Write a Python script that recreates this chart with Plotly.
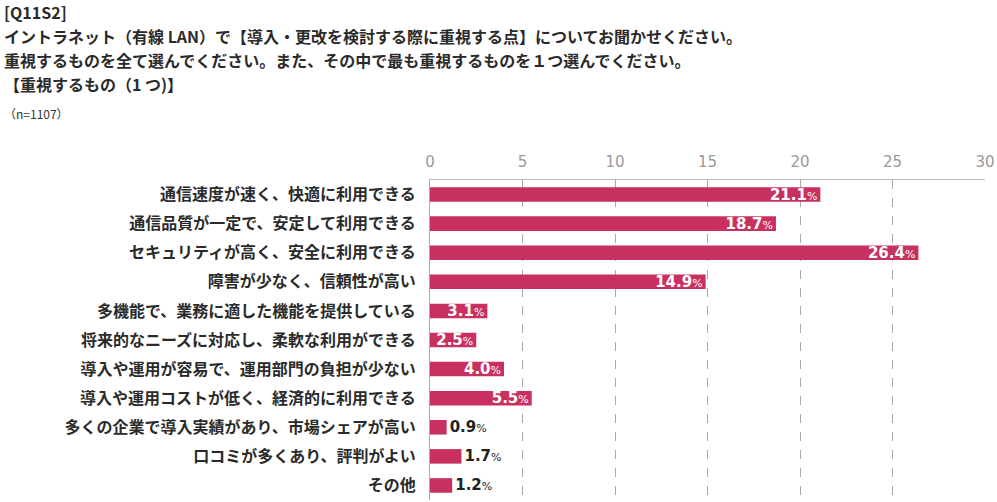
import plotly.graph_objects as go

categories = [
    "通信速度が速く、快適に利用できる",
    "通信品質が一定で、安定して利用できる",
    "セキュリティが高く、安全に利用できる",
    "障害が少なく、信頼性が高い",
    "多機能で、業務に適した機能を提供している",
    "将来的なニーズに対応し、柔軟な利用ができる",
    "導入や運用が容易で、運用部門の負担が少ない",
    "導入や運用コストが低く、経済的に利用できる",
    "多くの企業で導入実績があり、市場シェアが高い",
    "口コミが多くあり、評判がよい",
    "その他",
]
values = [21.1, 18.7, 26.4, 14.9, 3.1, 2.5, 4.0, 5.5, 0.9, 1.7, 1.2]
x_ticks = [0, 5, 10, 15, 20, 25, 30]

title_lines = [
    "[Q11S2]",
    "イントラネット（有線 LAN）で【導入・更改を検討する際に重視する点】についてお聞かせください。",
    "重視するものを全て選んでください。また、その中で最も重視するものを１つ選んでください。",
    "【重視するもの（1 つ)】",
]
n_text = "（n=1107）"

W, H = 997, 502
ML, MR, MT, MB = 430, 9, 180, 2
PW, PH = W - ML - MR, H - MT - MB

FONT = "Noto Sans CJK JP"
NUMFONT = "DejaVu Sans"
BAR = "#C8315F"

positions = ["inside" if v >= 2 else "outside" for v in values]
colors = ["white" if v >= 2 else "#222222" for v in values]
texts = [f"<b>{v:.1f}</b><span style='font-size:11px'>%</span>" for v in values]

fig = go.Figure(go.Bar(
    y=categories, x=values, orientation="h",
    marker=dict(color=BAR, line=dict(width=0)),
    text=texts, textposition=positions, insidetextanchor="end",
    constraintext="none", cliponaxis=False,
    textfont=dict(family=NUMFONT, size=15, color=colors),
    outsidetextfont=dict(family=NUMFONT, size=15, color="#222222"),
    insidetextfont=dict(family=NUMFONT, size=15, color="white"),
    width=0.5,
))

def px_x(px):
    return (px - ML) / PW

def px_y(py):
    return (H - MB - py) / PH

annotations = []
ys = [12, 36, 60, 84]
for line, yy in zip(title_lines, ys):
    annotations.append(dict(
        text=line, xref="paper", yref="paper", x=px_x(0), y=px_y(yy),
        xanchor="left", yanchor="middle", showarrow=False,
        font=dict(family=FONT, size=16, color="#2a2a2a", weight="bold"),
    ))
annotations.append(dict(
    text=n_text, xref="paper", yref="paper", x=px_x(0), y=px_y(114),
    xanchor="left", yanchor="middle", showarrow=False,
    font=dict(family=FONT, size=12, color="#333333"),
))

fig.update_layout(
    width=W, height=H,
    margin=dict(l=ML, r=MR, t=MT, b=MB),
    paper_bgcolor="white", plot_bgcolor="white",
    showlegend=False,
    bargap=0.5,
    annotations=annotations,
    xaxis=dict(
        side="top", range=[0, 30], tickvals=x_ticks,
        tickfont=dict(family=NUMFONT, size=15, color="#999999"),
        ticklabeloverflow="allow",
        showgrid=True, gridcolor="#aaaaaa", griddash="dash", gridwidth=1,
        showline=True, linecolor="#bbbbbb", linewidth=1,
        zeroline=False, ticks="", ticklabelstandoff=6,
    ),
    yaxis=dict(
        autorange="reversed",
        tickfont=dict(family=FONT, size=16, color="#2a2a2a", weight="bold"),
        showline=True, linecolor="#aaaaaa", linewidth=1,
        ticks="", ticklabelstandoff=10,
    ),
)

fig.write_html("out.html")
